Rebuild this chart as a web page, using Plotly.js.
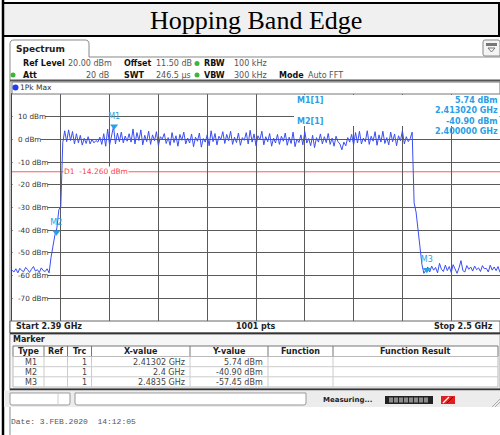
<!DOCTYPE html>
<html><head><meta charset="utf-8">
<script src="https://cdn.plot.ly/plotly-3.0.1.min.js"></script>
<style>html,body{margin:0;padding:0;background:#fff;}#chart{width:500px;height:435px;}</style>
</head><body><div id="chart"></div>
<script>
// ---------------- data ----------------
const titleText = 'Hopping Band Edge';
const startGHz = 2.39, stopGHz = 2.5;
const sweepPts = 1001;
const refLevel = 20, bottomLevel = -80;
const displayLine = -14.26;
const traceStep = 0.00044; // GHz between plotted samples
const lowerFloor = [-57.6,-58.4,-57.0,-58.8,-56.8,-57.8,-58.2,-56.4,-57.4,-58.6,-57.2,-56.0,-58.0,-57.4,-58.6,-56.6,-57.8,-58.2,-57.0,-58.8];
const lowerEdge = [-52,-47,-42,-39,-31,-29.5];
const inBand = [
 -1.5,3.8,-1.0,4.2,-0.5,3.5,-2.0,2.5,-1.5,1.8,
 -2.5,0.5,-1.8,1.2,-2.0,0.0,-1.5,-0.5,-1.2,1.0,
 -2.2,2.5,-3.0,4.5,-2.5,1.5,5.74,-2.0,2.8,-1.0,
 3.2,-1.5,1.5,-0.8,2.5,
 -1.2,4.6,-2.0,3.0,-0.5,4.2,-2.4,1.8,-1.0,3.6,
 -2.2,2.0,-0.6,3.4,-2.8,1.2,0.2,2.6,-1.8,0.8,
 -2.6,3.0,-1.4,1.6,-3.0,2.2,-0.4,3.2,-2.0,0.6,
 -1.6,2.4,-3.2,1.0,-0.8,2.8,-3.4,0.4,-1.2,2.0,
 -2.8,3.8,-1.0,2.6,-2.4,1.4,0.0,3.4,-1.8,2.2,
 -0.6,3.6,-2.2,1.0,-1.4,2.8,-2.6,0.8,-0.4,3.0,
 -2.0,4.0,-1.2,2.4,-2.8,1.6,-0.2,3.6,-2.4,1.2,
 -1.0,2.6,-3.0,0.6,-1.6,2.2,-2.2,1.4,-0.8,2.8,
 -2.6,1.0,-1.8,3.2,-3.2,0.2,-1.4,2.0,-2.4,3.4,
 -1.6,0.4,-2.8,1.8,-3.6,0.8,-1.2,2.4,-2.0,1.2,
 -1.4,2.6,-2.2,0.6,-3.0,1.4,-1.0,-2.0,-4.6,-1.2,
 -2.8,0.8,-1.2,2.2,-2.4,3.0,-1.6,3.6,-2.0,0.6,
 -1.0,3.8,-2.2,1.4,-0.8,3.4,-2.6,2.0,-1.2,3.6,
 -1.8,0.8,-2.4,3.2,-1.0,2.4,-2.8,1.6,-0.6,3.8,
 -2.0,1.2,-1.0,0.4,3.2];
const upperEdge = [-28,-32,-40,-50,-55,-59,-57.45];
const upperFloor = [-56.2,-58.4,-55.8,-57.6,-56.4,-58.8,-54.6,-57.2,-58.2,-55.4,-57.8,-56.0,-58.6,-55.2,-57.4,-59.0,-56.6,-53.4,-57.8,-58.4,-55.6,-57.2,-56.2,-58.0,-55.8,-57.4,-56.6,-58.2,-55.6,-57.0,-56.8,-58.4,-55.4,-57.6,-56.2,-57.8,-56.0,-58.6];
const markerNames = ['M1','M2','M3'];
const markerFreq = [2.41302, 2.4, 2.4835];
const markerLevel = [5.74, -40.90, -57.45];
const markerTrc = [1,1,1];
const yTickVals = [10,0,-10,-20,-30,-40,-50,-60,-70];
const yTickText = yTickVals.map(v => v + ' dBm');
const settings = {refLevel:'20.00 dBm', att:'20 dB', offset:'11.50 dB', swt:'246.5 µs', rbw:'100 kHz', vbw:'300 kHz', mode:'Auto FFT'};
const dateText = 'Date: 3.FEB.2020  14:12:05';

const levels = [].concat(lowerFloor, lowerEdge, inBand, upperEdge, upperFloor);
const freqs = levels.map((_, i) => startGHz + i * traceStep);

// ---------------- layout helpers (pixel -> paper) ----------------
const L = 12, R = 500, T = 94, B = 321;
const W = R - L, H = B - T;
const px = x => (x - L) / W;
const py = y => (B - y) / H;
const shapes = [], ann = [];
function rect(x0,y0,x1,y1,fill,line,lw,layer){
  shapes.push({type:'rect',xref:'paper',yref:'paper',x0:px(x0),x1:px(x1),y0:py(y1),y1:py(y0),
    fillcolor:fill||'rgba(0,0,0,0)',line:{color:line||'rgba(0,0,0,0)',width:(lw===undefined?1:lw)},layer:layer||'above'});
}
function seg(x0,y0,x1,y1,color,w,layer){
  shapes.push({type:'line',xref:'paper',yref:'paper',x0:px(x0),x1:px(x1),y0:py(y0),y1:py(y1),
    line:{color:color,width:w||1},layer:layer||'above'});
}
function path(d,fill,line,lw){
  const dd = d.replace(/(-?[\d.]+),(-?[\d.]+)/g,(m,a,b)=>px(+a).toFixed(5)+','+py(+b).toFixed(5));
  shapes.push({type:'path',xref:'paper',yref:'paper',path:dd,fillcolor:fill||'rgba(0,0,0,0)',line:{color:line||'rgba(0,0,0,0)',width:(lw===undefined?1:lw)}});
}
function circ(cx,cy,r,fill){
  shapes.push({type:'circle',xref:'paper',yref:'paper',x0:px(cx-r),x1:px(cx+r),y0:py(cy+r),y1:py(cy-r),fillcolor:fill,line:{width:0}});
}
function txt(x,y,text,o){
  o = o || {};
  ann.push({xref:'paper',yref:'paper',x:px(x),y:py(y),text:text,showarrow:false,
    xanchor:o.a||'left',yanchor:'middle',
    font:{family:o.f||'DejaVu Sans',size:o.s||8,color:o.c||'#222'},
    bgcolor:o.bg||'rgba(0,0,0,0)',borderpad:o.bp||0});
}

// title band
rect(3,3,499,36,'#f0f0f0','#000',2);
seg(3,0,3,435,'#000',2.5);
txt(255.5,20.5,titleText,{f:'Liberation Serif',s:26,c:'#000',a:'center'});

// spectrum tab + window frame
path('M10,435 L10,44 Q10,40 14,40 L85,40 Q89,40 89,44 L89,57 L500,57','rgba(0,0,0,0)','#888',1);
txt(15,48.5,'<b>Spectrum</b>',{s:9,c:'#222'});
// icon top-right
path('M485,40 L498,40 Q500,40 500,42 L500,56 L485,56 Q483,56 483,54 L483,42 Q483,40 485,40 Z','#f4f4f4','#888',1);
rect(486,43,497,46,'#777');
path('M488,48 L495,48 L491.5,52 Z','rgba(0,0,0,0)','#777',1);

// settings rows
const r1 = 63.5, r2 = 75;
txt(22,r1,'<b>Ref Level</b>',{c:'#111'});
txt(67,r1,settings.refLevel,{c:'#555'});
txt(123,r1,'<b>Offset</b>',{c:'#111'});
txt(155,r1,settings.offset,{c:'#555'});
circ(197,r1,2.5,'#3db53d');
txt(203,r1,'<b>RBW</b>',{c:'#111'});
txt(233,r1,settings.rbw,{c:'#555'});
circ(13,r2,2.5,'#3db53d');
txt(22,r2,'<b>Att</b>',{c:'#111'});
txt(110,r2,settings.att,{c:'#555',a:'right'});
txt(123,r2,'<b>SWT</b>',{c:'#111'});
txt(155,r2,settings.swt,{c:'#555'});
circ(197,r2,2.5,'#3db53d');
txt(203,r2,'<b>VBW</b>',{c:'#111'});
txt(233,r2,settings.vbw,{c:'#555'});
txt(278,r2,'<b>Mode</b>',{c:'#111'});
txt(307,r2,settings.mode,{c:'#555'});
seg(10,80.5,500,80.5,'#555',2);

// 1Pk Max bar
rect(12,82,500,94,'#fff','#777',1);
circ(15.5,87.5,3,'#1f3df0');
txt(19,87.5,'1Pk Max',{s:7.5,c:'#333'});

// y tick labels: thin white strip hides the grid line under each label
const cw = {'0':4.58,'1':4.58,'2':4.58,'3':4.58,'4':4.58,'5':4.58,'6':4.58,'7':4.58,'8':4.58,'9':4.58,'-':2.6,' ':2.29,'d':4.57,'B':4.94,'m':7.01};
yTickVals.forEach((v,i)=>{
  const w = [...yTickText[i]].reduce((s,c)=>s+(cw[c]||4.5),0);
  shapes.push({type:'rect',xref:'paper',yref:'y',x0:px(12.6),x1:px(16+w+1),y0:v-0.7,y1:v+0.7,fillcolor:'#fff',line:{width:0},layer:'above'});
  ann.push({xref:'paper',yref:'y',x:px(16),y:v,text:yTickText[i],showarrow:false,xanchor:'left',yanchor:'middle',
    font:{family:'DejaVu Sans',size:7.2,color:'#333'}});
});

// marker info box
rect(294,95,499.5,126,'#fff',null,0,'above');
const mc = '#2a9fe6';
txt(296,100,'<b>'+markerNames[0]+'['+markerTrc[0]+']</b>',{c:mc});
txt(499,100,'<b>'+markerLevel[0].toFixed(2)+' dBm</b>',{c:mc,a:'right'});
txt(499,110.5,'<b>'+markerFreq[0].toFixed(6)+' GHz</b>',{c:mc,a:'right'});
txt(296,121,'<b>'+markerNames[1]+'['+markerTrc[1]+']</b>',{c:mc});
txt(499,121,'<b>'+markerLevel[1].toFixed(2)+' dBm</b>',{c:mc,a:'right'});
txt(499,131.5,'<b>'+markerFreq[1].toFixed(6)+' GHz</b>',{c:mc,a:'right'});

// display line D1
shapes.push({type:'line',xref:'paper',yref:'y',x0:0,x1:1,y0:displayLine,y1:displayLine,line:{color:'#ff5a5a',width:1},layer:'between'});
ann.push({xref:'paper',yref:'y',x:px(63),y:displayLine,text:'D1  '+displayLine.toFixed(3)+' dBm',showarrow:false,xanchor:'left',yanchor:'middle',
  font:{family:'DejaVu Sans',size:7.5,color:'#ff4444'},bgcolor:'#fff',borderpad:0});

// bottom bar
rect(10,321,500,333,'#fff','#666',1);
seg(10,333.5,500,333.5,'#333',2);
txt(15,326.5,'<b>Start '+startGHz+' GHz</b>',{c:'#222'});
txt(256,326.5,'<b>'+sweepPts+' pts</b>',{c:'#222',a:'center'});
txt(494,326.5,'<b>Stop '+stopGHz+' GHz</b>',{c:'#222',a:'right'});

// marker table
rect(10,334.5,500,389,'#f6f6f6','#aaa',1);
txt(12,339.5,'<b>Marker</b>',{c:'#222'});
rect(13,346,498,356.5,'#fff','#777',1);
rect(13,356.5,498,387,'#fff','#bbb',1);
seg(13,366.7,498,366.7,'#ccc',1);
seg(13,376.8,498,376.8,'#ccc',1);
const colSep = [44,67.5,91.5,190,268,333];
colSep.forEach(x=>{ seg(x,346,x,356.5,'#777',1); seg(x,356.5,x,387,'#ccc',1); });
const hdr = [['Type',28.5],['Ref',55.7],['Trc',79.5],['X-value',141],['Y-value',229],['Function',300.5],['Function Result',415.5]];
hdr.forEach(h=>txt(h[1],351.5,'<b>'+h[0]+'</b>',{c:'#222',a:'center'}));
const rowY = [362,372,382];
markerNames.forEach((m,i)=>{
  txt(38,rowY[i],m,{c:'#444',a:'right'});
  txt(88,rowY[i],String(markerTrc[i]),{c:'#444',a:'right'});
  txt(186,rowY[i],String(markerFreq[i])+' GHz',{c:'#444',a:'right'});
  txt(264,rowY[i],markerLevel[i].toFixed(2)+' dBm',{c:'#444',a:'right'});
});
seg(10,389.5,500,389.5,'#333',2);

// status bar
rect(4,390.5,500,407,'#ececec');
path('M10,393 L70,393 L70,403 Q70,405 68,405 L12,405 Q10,405 10,403 Z','#fff','#999',1);
seg(58,394,58,404,'#ccc',1);
path('M75,393 L306,393 L306,403 Q306,405 304,405 L77,405 Q75,405 75,403 Z','#fff','#999',1);
txt(322,400,'<b>Measuring...</b>',{s:7,c:'#222'});
rect(385,396,433,404,'#222');
for (let k=0;k<8;k++) rect(389+k*5,397.5,393+k*5,402.5,'#8a8a8a');
rect(441,396,455,404,'#e02020');
seg(443,403,449,397,'#fff',1.2); seg(447,403,453,397,'#600',1);
seg(492,407,500,399,'#aaa',1); seg(495,407,500,402,'#aaa',1);

// date
txt(10,421.5,dateText,{f:'Liberation Mono',s:8,c:'#555'});

// ---------------- traces ----------------
const traces = [
  {x:freqs, y:levels, type:'scatter', mode:'lines', line:{color:'#3b4ef2', width:1}, hoverinfo:'skip'},
  {x:markerFreq, y:markerLevel, type:'scatter', mode:'markers+text', text:markerNames, textposition:'top center',
   textfont:{family:'DejaVu Sans', size:8, color:mc}, marker:{symbol:'triangle-down', size:7, color:mc}, hoverinfo:'skip'}
];

const layout = {
  width:500, height:435,
  margin:{l:L, r:500-R, t:T, b:435-B, pad:0},
  paper_bgcolor:'#fff', plot_bgcolor:'#fff',
  showlegend:false,
  xaxis:{range:[startGHz, stopGHz], tick0:startGHz, dtick:(stopGHz-startGHz)/10, showgrid:true, gridcolor:'#5a5a5a', gridwidth:1,
    showticklabels:false, ticks:'', zeroline:false, showline:true, mirror:true, linecolor:'#444', linewidth:1, fixedrange:true},
  yaxis:{range:[bottomLevel, refLevel], tick0:bottomLevel, dtick:10, showgrid:true, gridcolor:'#5a5a5a', gridwidth:1,
    showticklabels:false, ticks:'', zeroline:false, showline:true, mirror:true, linecolor:'#444', linewidth:1, fixedrange:true},
  shapes:shapes, annotations:ann
};
Plotly.newPlot('chart', traces, layout, {staticPlot:true, displayModeBar:false});
</script>
</body></html>
